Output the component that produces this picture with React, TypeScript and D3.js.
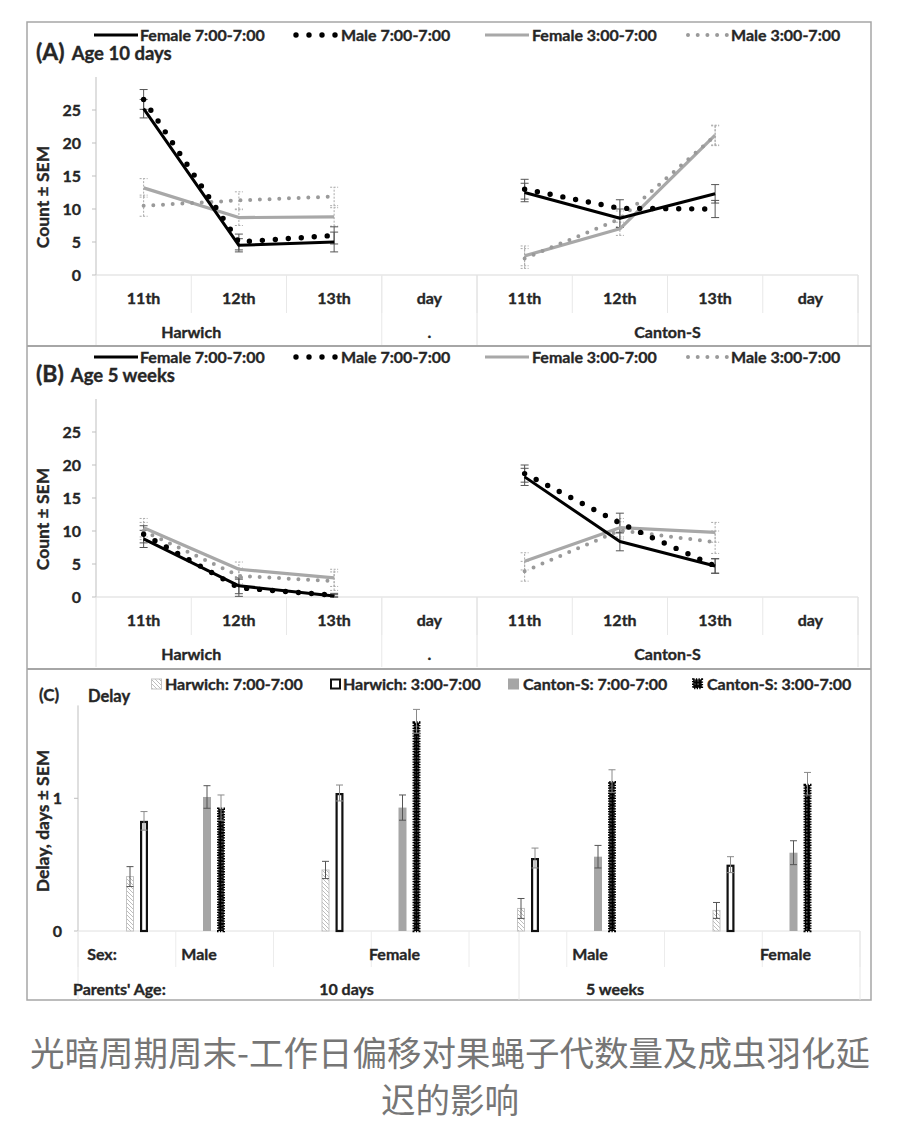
import React from 'react';
import * as d3 from 'd3';

const W = 900;
const H = 1128;

// ---------- Panels A & B: counts per day ----------
const dayLabels = ['11th', '12th', '13th', 'day'];
const strains = ['Harwich', 'Canton-S'];
const measuredDays = ['11th', '12th', '13th'];
const lineSeries = ['Female 7:00-7:00', 'Male 7:00-7:00', 'Female 3:00-7:00', 'Male 3:00-7:00'];
const yTicksCount = [0, 5, 10, 15, 20, 25];

// order: Harwich 11th,12th,13th, Canton-S 11th,12th,13th
const aFemale77 = [25.2, 4.5, 5.0, 12.5, 8.6, 12.3];
const aMale77 = [26.6, 5.0, 6.0, 13.0, 10.1, 10.0];
const aFemale37 = [13.2, 8.7, 8.8, 2.9, 7.0, 21.2];
const aMale37 = [10.5, 11.3, 11.9, 2.5, 8.5, 21.1];
const aFemale77Sem = [1.4, 1.0, 1.5, 1.4, 1.4, 1.4];
const aMale77Sem = [1.5, 1.2, 1.3, 1.5, 1.3, 1.3];
const aFemale37Sem = [1.4, 1.2, 1.4, 1.5, 1.0, 1.5];
const aMale37Sem = [1.6, 1.3, 1.4, 1.5, 1.2, 1.5];

const bFemale77 = [8.8, 1.7, 0.15, 18.2, 8.4, 4.7];
const bMale77 = [9.5, 1.4, 0.25, 18.7, 11.2, 4.7];
const bFemale37 = [10.5, 4.2, 2.9, 5.4, 10.5, 9.8];
const bMale37 = [10.0, 3.2, 2.4, 3.9, 10.1, 8.3];
const bFemale77Sem = [1.3, 1.2, 0.2, 1.3, 1.4, 1.1];
const bMale77Sem = [1.3, 1.3, 0.3, 1.3, 1.5, 1.1];
const bFemale37Sem = [1.4, 1.1, 1.3, 1.3, 1.4, 1.5];
const bMale37Sem = [1.3, 1.2, 1.4, 1.5, 1.3, 1.7];

// ---------- Panel C: delay ----------
const sexes = ['Male', 'Female'];
const parentAges = ['10 days', '5 weeks'];
const periods = ['7:00-7:00', '3:00-7:00'];
const barSeries = ['Harwich: 7:00-7:00', 'Harwich: 3:00-7:00', 'Canton-S: 7:00-7:00', 'Canton-S: 3:00-7:00'];
const yTicksDelay = [0, 1];
// order: Male 10d, Female 10d, Male 5w, Female 5w
const harwich77 = [0.41, 0.46, 0.17, 0.155];
const harwich37 = [0.83, 1.04, 0.55, 0.5];
const canton77 = [1.01, 0.93, 0.56, 0.59];
const canton37 = [0.93, 1.58, 1.13, 1.11];
const harwich77Sem = [0.075, 0.065, 0.075, 0.06];
const harwich37Sem = [0.07, 0.06, 0.075, 0.06];
const canton77Sem = [0.085, 0.095, 0.085, 0.09];
const canton37Sem = [0.095, 0.09, 0.085, 0.085];

const caption1 = '光暗周期周末-工作日偏移对果蝇子代数量及成虫羽化延';
const caption2 = '迟的影响';

const FONT = "Lato, 'Open Sans', sans-serif";
const TXT = '#262626';
const TS = { stroke: TXT, strokeWidth: 0.35 } as any;

const lineStyles = [
  { color: '#000', width: 3, dash: undefined as string | undefined, err: '#555', errDash: undefined as string | undefined },
  { color: '#000', width: 5.4, dash: '0 13', err: '#555', errDash: undefined },
  { color: '#a8a8a8', width: 3.2, dash: undefined, err: '#aaa', errDash: '2 1.5' },
  { color: '#9a9a9a', width: 4, dash: '0 9.7', err: '#aaa', errDash: '2 1.5' },
];

function LinePanel({ dy, letter, title, values, sems }: any) {
  const y0 = 275 + dy;
  const y = d3.scaleLinear().domain([0, 30]).range([y0, 77 + dy]);
  const keys: string[] = [];
  strains.forEach((s) => dayLabels.forEach((d) => keys.push(s + '|' + d)));
  const x = d3.scaleBand().domain(keys).range([96, 858]);
  const bw = x.bandwidth();
  const cx = (k: string) => (x(k) as number) + bw / 2;
  const line = d3
    .line<[number, number]>()
    .x((p) => p[0])
    .y((p) => p[1]);

  const order = [2, 3, 0, 1];
  const legendX = [94, 296, 485, 688];
  const legendLen = [44, 41.5, 44, 40];
  const legendTextX = [140, 341, 532, 731];
  const ly = 37 + dy - 2;

  return (
    <g>
      {/* legend */}
      {lineSeries.map((name, i) => {
        const st = lineStyles[i];
        return (
          <g key={name}>
            <path
              d={`M${legendX[i]},${ly}h${legendLen[i]}`}
              stroke={st.color}
              strokeWidth={st.width}
              strokeDasharray={st.dash}
              strokeLinecap={st.dash ? 'round' : 'butt'}
              fill="none"
            />
            <text x={legendTextX[i]} y={ly + 5.5} fontSize={16} fontWeight={700} fill={TXT} fontFamily={FONT} {...TS}>
              {name}
            </text>
          </g>
        );
      })}
      {/* title */}
      <text x={36} y={60 + dy} fontFamily={FONT} fontWeight={700} fill={TXT} {...TS}>
        <tspan fontSize={23}>({letter})</tspan>
        <tspan fontSize={18.5} dx={7}>{title}</tspan>
      </text>
      {/* y axis */}
      <line x1={96} x2={96} y1={y(0)} y2={y(30)} stroke="#bfbfbf" strokeWidth={1} />
      {yTicksCount.map((t) => (
        <g key={t}>
          <line x1={92} x2={96} y1={y(t)} y2={y(t)} stroke="#bfbfbf" />
          <text x={81} y={y(t) + 5.5} textAnchor="end" fontSize={16} fontWeight={700} fill={TXT} fontFamily={FONT} {...TS}>
            {t}
          </text>
        </g>
      ))}
      <text
        transform={`translate(49,${197 + dy}) rotate(-90)`}
        textAnchor="middle"
        fontSize={17.5}
        fontWeight={700}
        fill={TXT}
        fontFamily={FONT}
        {...TS}
      >
        Count ± SEM
      </text>
      {/* x axis */}
      <line x1={96} x2={858} y1={y0} y2={y0} stroke="#d9d9d9" />
      {keys.map((k) => (
        <g key={k}>
          <line x1={(x(k) as number) + bw} x2={(x(k) as number) + bw} y1={y0} y2={y0 + 38} stroke="#e8e8e8" />
          <text x={cx(k)} y={y0 + 29} textAnchor="middle" fontSize={16} fontWeight={700} fill={TXT} fontFamily={FONT} {...TS}>
            {k.split('|')[1]}
          </text>
        </g>
      ))}
      {[x('Harwich|11th') as number, x('Canton-S|11th') as number, 858].map((xx, i) => (
        <line key={i} x1={xx} x2={xx} y1={y0} y2={345 + dy} stroke="#e0e0e0" />
      ))}
      <line x1={x('Harwich|day') as number} x2={x('Harwich|day') as number} y1={y0} y2={345 + dy} stroke="#e8e8e8" />
      <text x={x('Harwich|12th') as number} y={y0 + 63} textAnchor="middle" fontSize={16} fontWeight={700} fill={TXT} fontFamily={FONT} {...TS}>
        Harwich
      </text>
      <text x={cx('Harwich|day')} y={y0 + 63} textAnchor="middle" fontSize={16} fontWeight={700} fill={TXT} fontFamily={FONT} {...TS}>
        .
      </text>
      <text x={x('Canton-S|13th') as number} y={y0 + 63} textAnchor="middle" fontSize={16} fontWeight={700} fill={TXT} fontFamily={FONT} {...TS}>
        Canton-S
      </text>
      {/* error bars */}
      {order.map((si) => {
        const st = lineStyles[si];
        return (
          <g key={'e' + si}>
            {values[si].map((v: number, j: number) => {
              const s = strains[Math.floor(j / 3)];
              const k = s + '|' + measuredDays[j % 3];
              const px = cx(k);
              const lo = Math.max(0, v - sems[si][j]);
              const hi = v + sems[si][j];
              return (
                <g key={j} stroke={st.err} strokeWidth={1} strokeDasharray={st.errDash}>
                  <line x1={px} x2={px} y1={y(lo)} y2={y(hi)} />
                  <line x1={px - 4} x2={px + 4} y1={y(lo)} y2={y(lo)} />
                  <line x1={px - 4} x2={px + 4} y1={y(hi)} y2={y(hi)} />
                </g>
              );
            })}
          </g>
        );
      })}
      {/* lines */}
      {order.map((si) => {
        const st = lineStyles[si];
        return (
          <g key={'l' + si}>
            {strains.map((s, sIdx) => {
              const pts: [number, number][] = measuredDays.map((d, di) => [cx(s + '|' + d), y(values[si][sIdx * 3 + di])]);
              return (
                <path
                  key={s}
                  d={line(pts) || ''}
                  fill="none"
                  stroke={st.color}
                  strokeWidth={st.width}
                  strokeDasharray={st.dash}
                  strokeLinecap={st.dash ? 'round' : 'butt'}
                  strokeLinejoin="round"
                />
              );
            })}
          </g>
        );
      })}
    </g>
  );
}

function BarPanel() {
  const y0 = 931;
  const y = d3.scaleLinear().domain([0, 1.7]).range([y0, y0 - 1.7 * 132.7]);
  const groups: string[] = [];
  parentAges.forEach((a) => sexes.forEach((s) => groups.push(s + '|' + a)));
  const xg = d3.scaleBand().domain(groups).range([78, 860]);
  const xs = d3.scaleBand().domain(strains).range([48, 202]);
  const xp = d3.scaleBand().domain(periods).range([0, 22]).paddingInner(3 / 7);
  const bw = xp.bandwidth();
  const vals = [harwich77, harwich37, canton77, canton37];
  const sems = [harwich77Sem, harwich37Sem, canton77Sem, canton37Sem];

  const barX = (gi: number, si: number) =>
    (xg(groups[gi]) as number) + (xs(strains[Math.floor(si / 2)]) as number) + (xp(periods[si % 2]) as number);

  const renderBar = (si: number, x0: number, yTop: number, h: number, key: string) => {
    if (si === 0)
      return <rect key={key} x={x0 + 0.5} y={yTop} width={bw - 1} height={h} fill="url(#hatch)" stroke="#c4c4c4" strokeWidth={1} />;
    if (si === 1)
      return <rect key={key} x={x0 + 1.1} y={yTop + 1.1} width={bw - 2.2} height={h - 1.1} fill="#fff" stroke="#111" strokeWidth={2.2} />;
    if (si === 2) return <rect key={key} x={x0} y={yTop} width={bw} height={h} fill="#a6a6a6" />;
    return (
      <rect
        key={key}
        x={x0 + 1.3}
        y={yTop + 1.3}
        width={bw - 2.6}
        height={h - 1.3}
        fill="url(#confetti)"
        stroke="#000"
        strokeWidth={2.6}
        strokeDasharray="1.3 1.3"
      />
    );
  };

  const legendIconX = [151, 330, 508, 692];
  const legendTextX = [165, 343, 523, 707];
  const ly = 684;

  const sepRow1: number[] = d3.range(9).map((i) => 78 + (782 / 8) * i);

  return (
    <g>
      <text x={39} y={700.5} fontSize={17} fontWeight={700} fill={TXT} fontFamily={FONT} {...TS}>
        (C)
      </text>
      <text x={88} y={702} fontSize={16.5} fontWeight={700} fill={TXT} fontFamily={FONT} {...TS}>
        Delay
      </text>
      {barSeries.map((name, i) => (
        <g key={name}>
          {i === 0 && <rect x={legendIconX[i] + 0.5} y={ly - 5} width={10} height={10} fill="url(#hatch)" stroke="#c4c4c4" />}
          {i === 1 && <rect x={legendIconX[i] + 1} y={ly - 4.5} width={9} height={9} fill="#fff" stroke="#111" strokeWidth={2} />}
          {i === 2 && <rect x={legendIconX[i]} y={ly - 5.5} width={11} height={11} fill="#a6a6a6" />}
          {i === 3 && (
            <rect
              x={legendIconX[i] + 1.3}
              y={ly - 4.5}
              width={8.5}
              height={8.5}
              fill="url(#confetti)"
              stroke="#000"
              strokeWidth={2.6}
              strokeDasharray="1.3 1.3"
            />
          )}
          <text x={legendTextX[i]} y={ly + 5.8} fontSize={16} fontWeight={700} fill={TXT} fontFamily={FONT} {...TS}>
            {name}
          </text>
        </g>
      ))}
      {/* axis */}
      <line x1={78} x2={78} y1={y(0)} y2={y(1.7)} stroke="#bfbfbf" />
      {yTicksDelay.map((t) => (
        <g key={t}>
          <line x1={74} x2={78} y1={y(t)} y2={y(t)} stroke="#bfbfbf" />
          <text x={62} y={y(t) + 5.5} textAnchor="end" fontSize={16} fontWeight={700} fill={TXT} fontFamily={FONT} {...TS}>
            {t}
          </text>
        </g>
      ))}
      <text
        transform={`translate(49,821) rotate(-90)`}
        textAnchor="middle"
        fontSize={17.5}
        fontWeight={700}
        fill={TXT}
        fontFamily={FONT}
        {...TS}
      >
        Delay, days ± SEM
      </text>
      <line x1={78} x2={860} y1={y0} y2={y0} stroke="#e0e0e0" />
      {sepRow1.map((sx, i) => (
        <line key={i} x1={sx} x2={sx} y1={y0} y2={y0 + 36} stroke="#ececec" />
      ))}
      {[78, 519, 860].map((sx, i) => (
        <line key={'r2' + i} x1={sx} x2={sx} y1={y0} y2={1000} stroke="#e6e6e6" />
      ))}
      {/* bars */}
      {groups.map((g, gi) =>
        vals.map((arr, si) => {
          const x0 = barX(gi, si);
          const v = arr[gi];
          return renderBar(si, x0, y(v), y0 - y(v), g + si);
        })
      )}
      {/* error bars */}
      {groups.map((g, gi) =>
        vals.map((arr, si) => {
          const px = barX(gi, si) + bw / 2;
          const v = arr[gi];
          const e = sems[si][gi];
          return (
            <g key={'e' + g + si} stroke={si === 1 || si === 3 ? '#8a8a8a' : '#555'} strokeWidth={1}>
              <line x1={px} x2={px} y1={y(v - e)} y2={y(v + e)} />
              <line x1={px - 3.5} x2={px + 3.5} y1={y(v + e)} y2={y(v + e)} />
              <line x1={px - 3.5} x2={px + 3.5} y1={y(v - e)} y2={y(v - e)} />
            </g>
          );
        })
      )}
      {/* category labels */}
      <text x={102} y={959.5} textAnchor="middle" fontSize={16} fontWeight={700} fill={TXT} fontFamily={FONT} {...TS}>
        Sex:
      </text>
      {groups.map((g) => (
        <text
          key={'s' + g}
          x={(xg(g) as number) + (xs('Canton-S') as number) - 4}
          y={959.5}
          textAnchor="middle"
          fontSize={16}
          fontWeight={700}
          fill={TXT}
          fontFamily={FONT}
          {...TS}
        >
          {g.split('|')[0]}
        </text>
      ))}
      <text x={73} y={994.5} fontSize={16} fontWeight={700} fill={TXT} fontFamily={FONT} {...TS}>
        Parents' Age:
      </text>
      {parentAges.map((a, ai) => (
        <text
          key={a}
          x={ai === 0 ? (xg('Female|10 days') as number) + 73 : (xg('Male|5 weeks') as number) + 146}
          y={994.5}
          textAnchor="middle"
          fontSize={16}
          fontWeight={700}
          fill={TXT}
          fontFamily={FONT}
          {...TS}
        >
          {a}
        </text>
      ))}
    </g>
  );
}

export default function App() {
  return (
    <svg
      width={W}
      height={H}
      viewBox={`0 0 ${W} ${H}`}
      style={{ position: 'absolute', left: 0, top: 0, background: '#fff' }}
    >
      <defs>
        <pattern id="hatch" patternUnits="userSpaceOnUse" width={4} height={4}>
          <rect width={4} height={4} fill="#fff" />
          <path d="M0,0 L4,4 M-1,3 L1,5 M3,-1 L5,1" stroke="#bdbdbd" strokeWidth={1} />
        </pattern>
        <pattern id="confetti" patternUnits="userSpaceOnUse" width={3.5} height={3.5}>
          <rect width={3.5} height={3.5} fill="#000" />
          <rect x={1.2} y={1.2} width={1} height={1} fill="#fff" />
        </pattern>
      </defs>
      <rect x={0} y={0} width={W} height={H} fill="#fff" />
      <rect x={27} y={22} width={844} height={978} fill="none" stroke="#a6a6a6" strokeWidth={1.5} />
      <line x1={27} x2={871} y1={346} y2={346} stroke="#a6a6a6" strokeWidth={1.8} />
      <line x1={27} x2={871} y1={669} y2={669} stroke="#a6a6a6" strokeWidth={1.8} />
      <LinePanel
        dy={0}
        letter="A"
        title="Age 10 days"
        values={[aFemale77, aMale77, aFemale37, aMale37]}
        sems={[aFemale77Sem, aMale77Sem, aFemale37Sem, aMale37Sem]}
      />
      <LinePanel
        dy={322}
        letter="B"
        title="Age 5 weeks"
        values={[bFemale77, bMale77, bFemale37, bMale37]}
        sems={[bFemale77Sem, bMale77Sem, bFemale37Sem, bMale37Sem]}
      />
      <BarPanel />
      <text x={450} y={1066} textAnchor="middle" fontSize={34.5} fill="#767676" fontFamily="'Noto Sans CJK SC', sans-serif">
        {caption1}
      </text>
      <text x={450} y={1113} textAnchor="middle" fontSize={34.5} fill="#767676" fontFamily="'Noto Sans CJK SC', sans-serif">
        {caption2}
      </text>
    </svg>
  );
}
